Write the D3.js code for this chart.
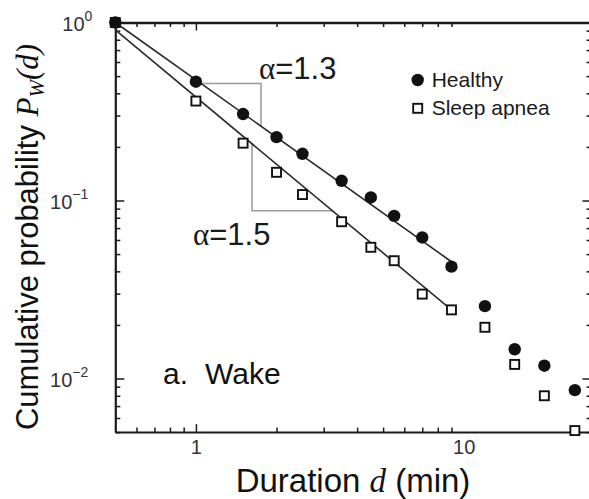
<html lang="en">
<head>
    <meta charset="UTF-8">
    <title>Wake durations</title>
    <script src="https://d3js.org/d3.v7.min.js"></script>
    <style>
        body { margin: 0; background: #fff; }
        svg { display: block; background: #fff; }
        .sans { font-family: "Liberation Sans", Arial, sans-serif; }
        .serif { font-family: "Liberation Serif", "Times New Roman", serif; }
    </style>
</head>
<body>
    <script>
        // durations (min) and cumulative probabilities
        const durations = [0.5, 1, 1.5, 2, 2.5, 3.5, 4.5, 5.5, 7, 9, 12, 15.5, 20, 26];
        const healthy = [1.0, 0.465, 0.306, 0.227, 0.183, 0.129, 0.104, 0.082, 0.062, 0.0425, 0.0255, 0.0146, 0.0118, 0.0086];
        const apnea = [1.0, 0.362, 0.210, 0.144, 0.108, 0.076, 0.0546, 0.0459, 0.0298, 0.0243, 0.0194, 0.0120, 0.0080, 0.0051];

        // fitted power laws, given by their end points
        const fitX = [0.5, 9];
        const fitHealthy = [1.0, 0.0453];
        const fitApnea = [0.908, 0.0243];
        const fitLabels = ['\u03B1', '=1.3', '\u03B1', '=1.5'];

        // corners of the two slope guides
        const guideHealthy = [1.75, 0.455];
        const guideApnea = [1.62, 0.0876];

        const xMajor = [1, 10];
        const xMinor = [0.6, 0.7, 0.8, 0.9, 2, 3, 4, 5, 6, 7, 8, 9];
        const yMajor = [1, 0.1, 0.01];
        const yMajorExp = ['0', '\u22121', '\u22122'];
        const yMinor = [0.005, 0.006, 0.007, 0.008, 0.009,
                        0.02, 0.03, 0.04, 0.05, 0.06, 0.07, 0.08, 0.09,
                        0.2, 0.3, 0.4, 0.5, 0.6, 0.7, 0.8, 0.9];

        const w = 589, h = 499;
        const svg = d3.select('body').append('svg')
            .attr('width', w).attr('height', h);

        const x = d3.scaleLog().domain([0.5, 30]).range([115.3, 591.5]);
        const y = d3.scaleLog().domain([0.005, 1]).range([432.1, 22.5]);
        const [x0, x1] = x.range();
        const [yb, yt] = y.range();

        function powerLaw(ends) {
            const s = Math.log(ends[1] / ends[0]) / Math.log(fitX[1] / fitX[0]);
            return {
                at: v => ends[0] * Math.pow(v / fitX[0], s),
                inv: p => fitX[0] * Math.pow(p / ends[0], 1 / s)
            };
        }
        const lawH = powerLaw(fitHealthy);
        const lawA = powerLaw(fitApnea);

        // ---- axes ----
        function styleAxis(g, width) {
            g.select('.domain').attr('stroke', '#1a1a1a').attr('stroke-width', width);
            g.selectAll('.tick line').attr('stroke', '#1a1a1a').attr('stroke-width', 1.5);
        }

        // bottom
        const gB = svg.append('g').attr('transform', `translate(0,${yb})`)
            .call(d3.axisBottom(x).tickValues(xMajor).tickSizeInner(-8).tickSizeOuter(0).tickPadding(8)
                .tickFormat(d3.format('d')));
        gB.selectAll('.tick line').filter(d => d !== 1).remove();
        gB.selectAll('.tick text').attr('class', 'sans').attr('font-size', 20).attr('fill', '#333');
        styleAxis(gB, 2);
        const gB2 = svg.append('g').attr('transform', `translate(0,${yb})`)
            .call(d3.axisBottom(x).tickValues(xMinor).tickSizeInner(-4.5).tickSizeOuter(0).tickFormat(''));
        gB2.select('.domain').remove();
        styleAxis(gB2, 0);

        // top
        const gT = svg.append('g').attr('transform', `translate(0,${yt})`)
            .call(d3.axisTop(x).tickValues([1]).tickSizeInner(-8).tickSizeOuter(0).tickFormat(''));
        styleAxis(gT, 2.6);
        const gT2 = svg.append('g').attr('transform', `translate(0,${yt})`)
            .call(d3.axisTop(x).tickValues(xMinor).tickSizeInner(-4.5).tickSizeOuter(0).tickFormat(''));
        gT2.select('.domain').remove();
        styleAxis(gT2, 0);

        // left
        const gL = svg.append('g').attr('transform', `translate(${x0},0)`)
            .call(d3.axisLeft(y).tickValues(yMajor).tickSizeInner(-9).tickSizeOuter(0).tickPadding(25)
                .tickFormat(''));
        styleAxis(gL, 2.2);
        gL.selectAll('.tick text').each(function (d, i) {
            const t = d3.select(this).attr('class', 'sans').attr('fill', '#333')
                .attr('text-anchor', 'end').attr('x', i === 0 ? -23 : -27)
                .attr('dy', '0.4em').attr('font-size', 20);
            t.append('tspan').text('10');
            t.append('tspan').attr('font-size', 14).attr('dy', '-0.72em').text(yMajorExp[i]);
        });
        const gL2 = svg.append('g').attr('transform', `translate(${x0},0)`)
            .call(d3.axisLeft(y).tickValues(yMinor).tickSizeInner(-5).tickSizeOuter(0).tickFormat(''));
        gL2.select('.domain').remove();
        styleAxis(gL2, 0);

        // right
        const gR = svg.append('g').attr('transform', `translate(${x1},0)`)
            .call(d3.axisRight(y).tickValues(yMajor).tickSizeInner(-9).tickSizeOuter(0).tickFormat(''));
        styleAxis(gR, 2);
        const gR2 = svg.append('g').attr('transform', `translate(${x1},0)`)
            .call(d3.axisRight(y).tickValues(yMinor).tickSizeInner(-5).tickSizeOuter(0).tickFormat(''));
        gR2.select('.domain').remove();
        styleAxis(gR2, 0);

        // ---- slope guides ----
        const line = d3.line().x(d => x(d[0])).y(d => y(d[1]));
        svg.append('path')
            .attr('d', line([[lawH.inv(guideHealthy[1]), guideHealthy[1]], guideHealthy,
                             [guideHealthy[0], lawH.at(guideHealthy[0])]]))
            .attr('fill', 'none').attr('stroke', '#9a9a9a').attr('stroke-width', 1.5);
        svg.append('path')
            .attr('d', line([[guideApnea[0], lawA.at(guideApnea[0])], guideApnea,
                             [lawA.inv(guideApnea[1]), guideApnea[1]]]))
            .attr('fill', 'none').attr('stroke', '#9a9a9a').attr('stroke-width', 1.5);

        // ---- fit lines ----
        [fitHealthy, fitApnea].forEach(f => {
            svg.append('path')
                .attr('d', line(fitX.map((v, i) => [v, f[i]])))
                .attr('fill', 'none').attr('stroke', '#2a2a2a').attr('stroke-width', 1.6);
        });

        // ---- markers ----
        svg.append('g').selectAll('rect')
            .data(durations.map((d, i) => [d, apnea[i]]))
            .enter().append('rect')
            .attr('x', d => x(d[0]) - 4.5).attr('y', d => y(d[1]) - 4.5)
            .attr('width', 9).attr('height', 9)
            .attr('fill', '#fff').attr('stroke', '#111').attr('stroke-width', 1.9);
        svg.append('g').selectAll('circle')
            .data(durations.map((d, i) => [d, healthy[i]]))
            .enter().append('circle')
            .attr('cx', d => x(d[0])).attr('cy', d => y(d[1]))
            .attr('r', 6.2).attr('fill', '#111');

        // ---- text ----
        const a13 = svg.append('text').attr('x', 259).attr('y', 79).attr('font-size', 31).attr('fill', '#1a1a1a');
        a13.append('tspan').attr('class', 'serif').text(fitLabels[0]);
        a13.append('tspan').attr('class', 'sans').text(fitLabels[1]);
        const a15 = svg.append('text').attr('x', 193).attr('y', 245).attr('font-size', 31).attr('fill', '#1a1a1a');
        a15.append('tspan').attr('class', 'serif').text(fitLabels[2]);
        a15.append('tspan').attr('class', 'sans').text(fitLabels[3]);

        // legend
        svg.append('circle').attr('cx', 417.7).attr('cy', 80).attr('r', 6.2).attr('fill', '#111');
        svg.append('rect').attr('x', 413.2).attr('y', 103.8).attr('width', 9).attr('height', 9)
            .attr('fill', '#fff').attr('stroke', '#111').attr('stroke-width', 1.9);
        svg.append('text').attr('class', 'sans').attr('x', 431.7).attr('y', 87.3)
            .attr('font-size', 21).attr('fill', '#1a1a1a').text('Healthy');
        svg.append('text').attr('class', 'sans').attr('x', 431.7).attr('y', 115)
            .attr('font-size', 21).attr('fill', '#1a1a1a').text('Sleep apnea');

        // panel label
        const pl = svg.append('text').attr('class', 'sans').attr('x', 163).attr('y', 383.5)
            .attr('font-size', 30).attr('fill', '#111');
        pl.append('tspan').text('a.');
        pl.append('tspan').attr('x', 205).text('Wake');

        // x title
        const xt = svg.append('text').attr('x', 353).attr('y', 492)
            .attr('text-anchor', 'middle').attr('font-size', 33).attr('fill', '#111');
        xt.append('tspan').attr('class', 'sans').text('Duration ');
        xt.append('tspan').attr('class', 'serif').attr('font-style', 'italic').text('d');
        xt.append('tspan').attr('class', 'sans').text(' (min)');

        // y title
        const yTitle = svg.append('text')
            .attr('transform', 'translate(38,237) rotate(-90)')
            .attr('text-anchor', 'middle').attr('font-size', 31).attr('fill', '#111');
        yTitle.append('tspan').attr('class', 'sans').text('Cumulative probability ');
        yTitle.append('tspan').attr('class', 'serif').attr('font-style', 'italic').text('P');
        yTitle.append('tspan').attr('class', 'serif').attr('font-style', 'italic')
            .attr('font-size', 21).attr('dy', 6).text('W');
        yTitle.append('tspan').attr('class', 'serif').attr('font-style', 'italic')
            .attr('dy', -6).text('(d)');
    </script>
</body>
</html>
